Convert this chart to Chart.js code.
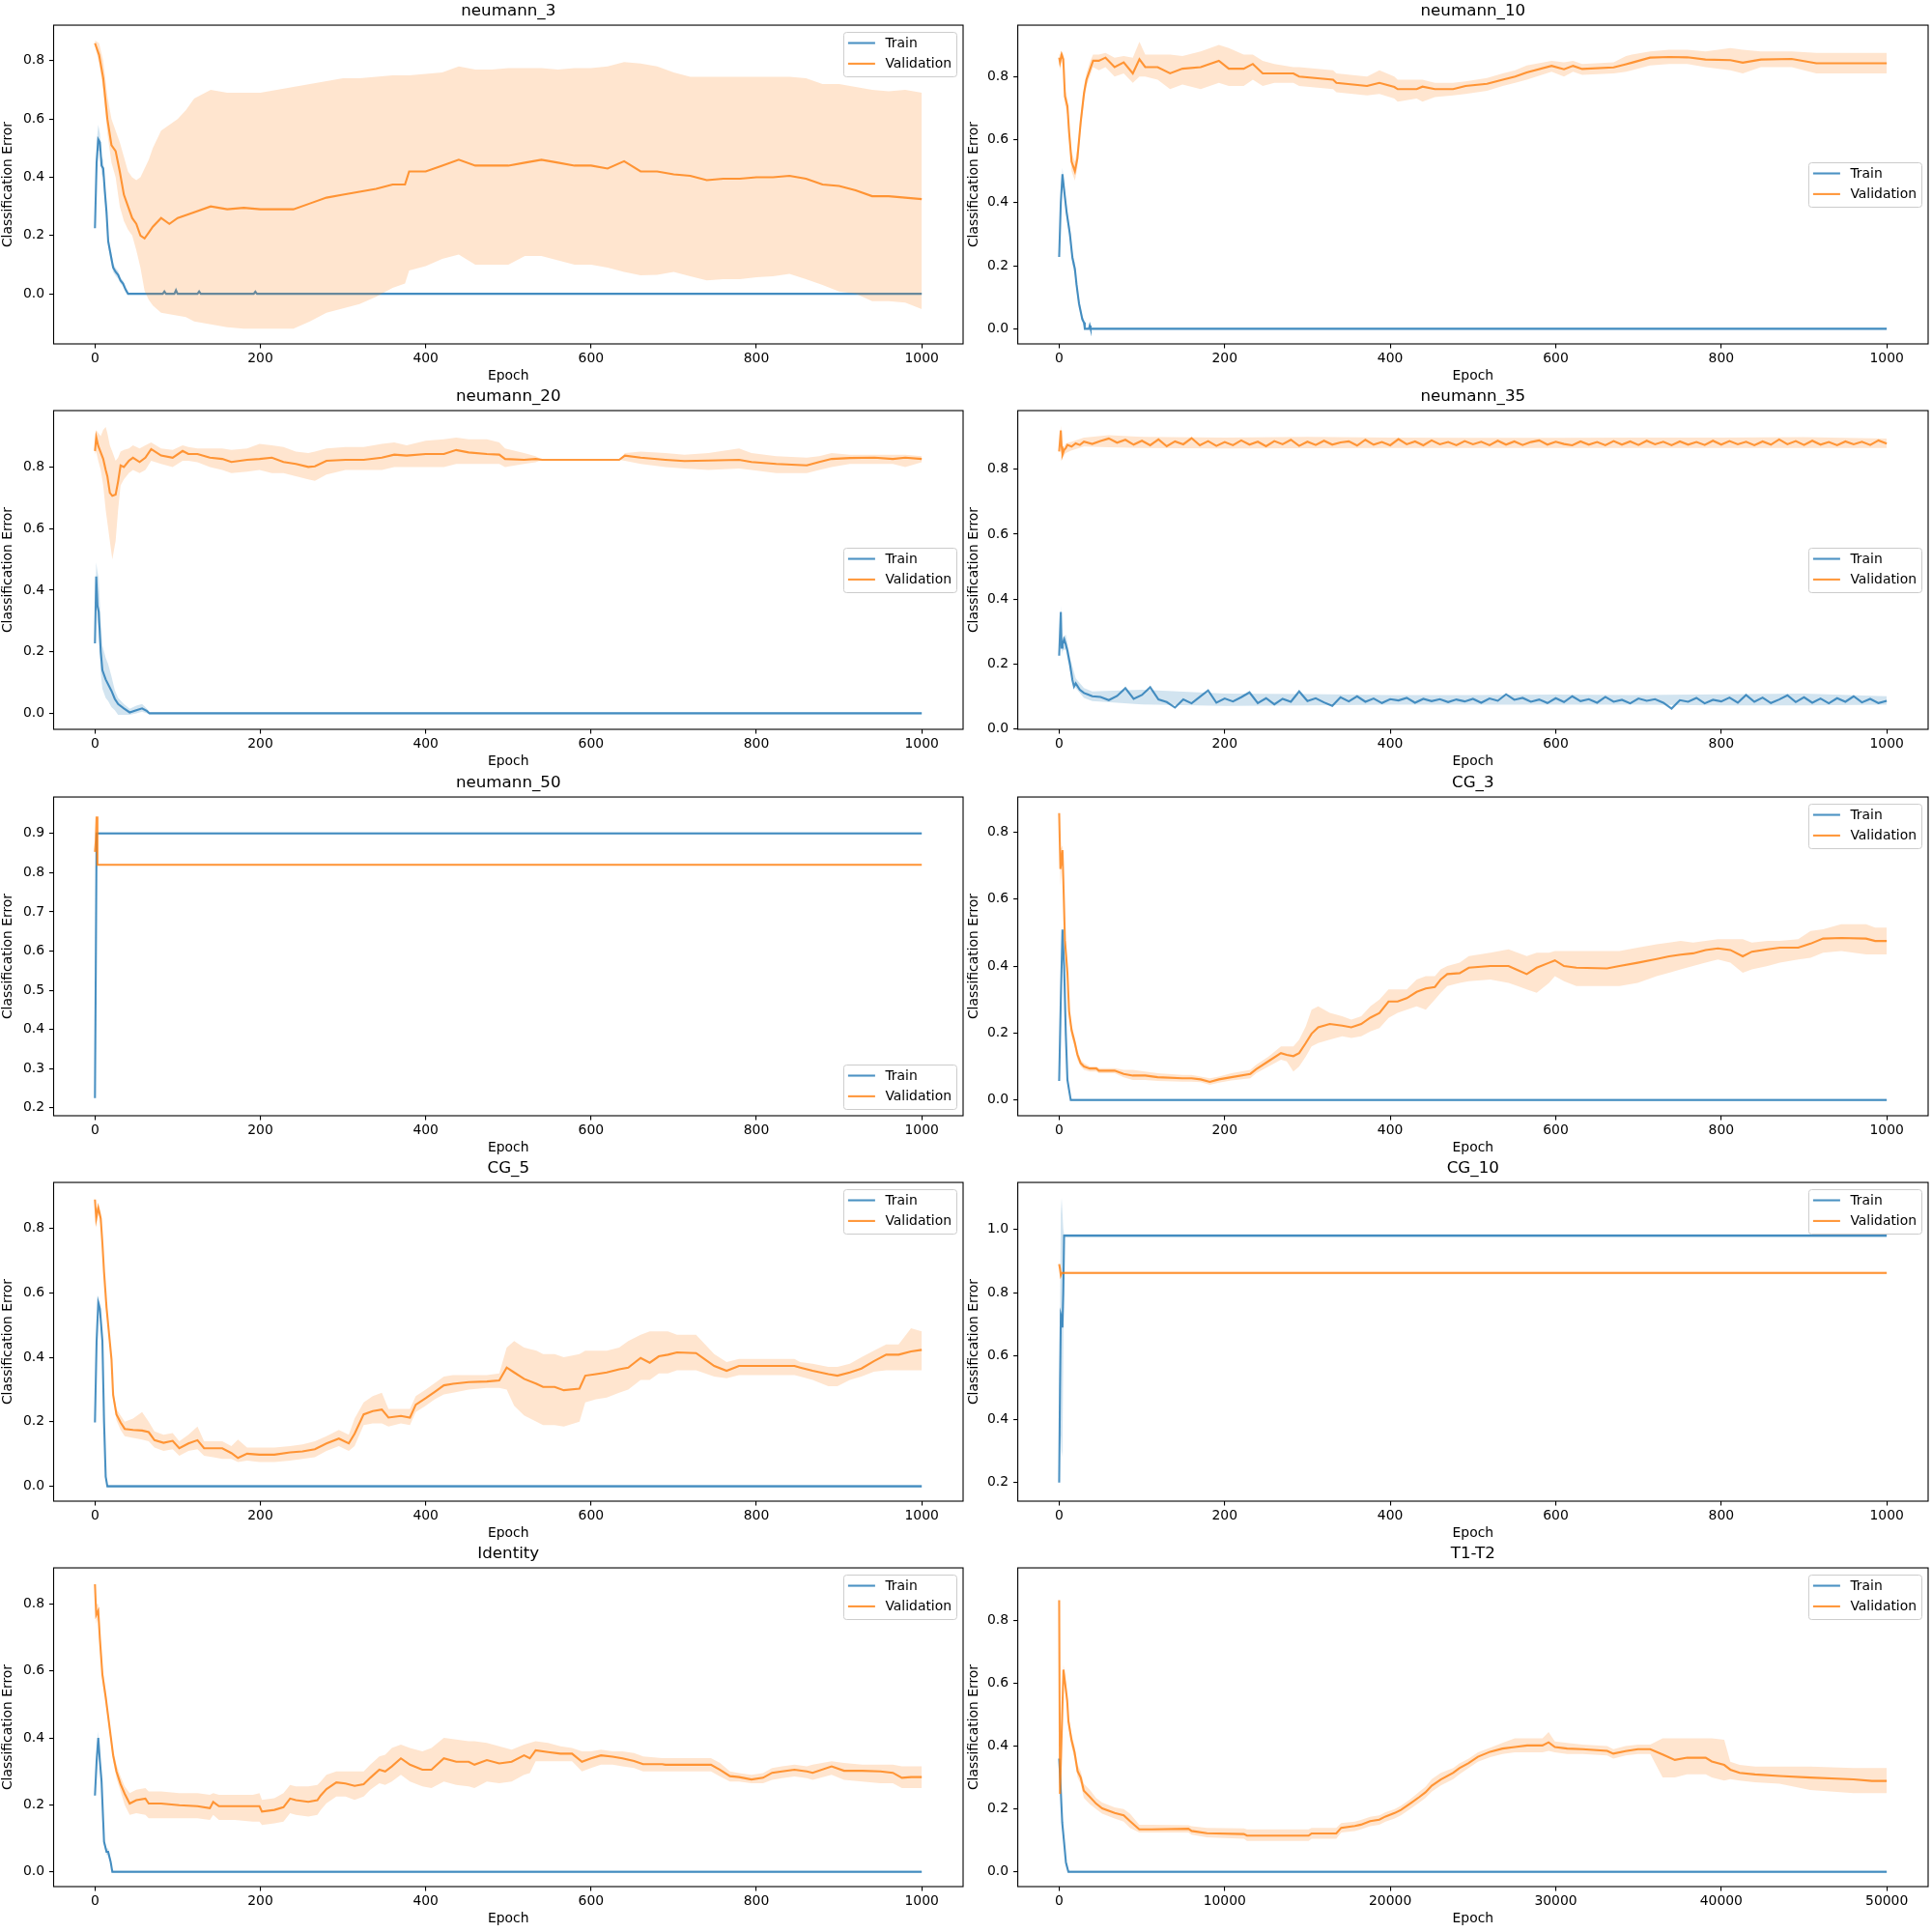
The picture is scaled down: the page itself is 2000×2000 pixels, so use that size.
<!DOCTYPE html>
<html>
<head>
<meta charset="utf-8">
<script src="https://cdn.jsdelivr.net/npm/chart.js@4.4.0/dist/chart.umd.min.js"></script>
<style>
  html, body { margin: 0; padding: 0; background: #fff; }
  #fig { position: relative; width: 2000px; height: 2000px; }
  .cell { position: absolute; width: 1000px; height: 400px; }
</style>
</head>
<body>
<div id="fig"></div>
<script>
// ---- neumann_3 ----
const n3ValX  = [0,5,10,15,20,25,30,35,40,45,50,55,60,65,70,80,90,100,110,120,140,160,180,200,220,240,260,280,300,320,340,360,375,380,400,420,440,460,480,500,520,540,560,580,600,620,640,660,680,700,720,740,760,780,800,820,840,860,880,900,920,940,960,980,1000];
const n3Val   = [0.86,0.82,0.74,0.60,0.51,0.49,0.42,0.34,0.30,0.26,0.24,0.20,0.19,0.21,0.23,0.26,0.24,0.26,0.27,0.28,0.30,0.29,0.295,0.29,0.29,0.29,0.31,0.33,0.34,0.35,0.36,0.375,0.375,0.42,0.42,0.44,0.46,0.44,0.44,0.44,0.45,0.46,0.45,0.44,0.44,0.43,0.455,0.42,0.42,0.41,0.405,0.39,0.395,0.395,0.40,0.40,0.405,0.395,0.375,0.37,0.355,0.335,0.335,0.33,0.325];
const n3ValLo = [0.85,0.79,0.70,0.55,0.45,0.40,0.30,0.25,0.22,0.20,0.15,0.09,0.01,-0.02,-0.04,-0.065,-0.07,-0.075,-0.08,-0.095,-0.105,-0.115,-0.12,-0.12,-0.12,-0.12,-0.095,-0.065,-0.05,-0.035,-0.01,0.02,0.035,0.08,0.095,0.12,0.135,0.10,0.10,0.10,0.13,0.13,0.115,0.10,0.10,0.09,0.075,0.063,0.065,0.075,0.06,0.046,0.05,0.05,0.057,0.06,0.068,0.05,0.03,0.008,0.0,-0.025,-0.025,-0.03,-0.053];
const n3ValHi = [0.87,0.86,0.80,0.68,0.60,0.56,0.52,0.47,0.42,0.40,0.39,0.40,0.43,0.46,0.50,0.56,0.58,0.60,0.63,0.67,0.70,0.69,0.69,0.69,0.70,0.71,0.72,0.73,0.74,0.74,0.745,0.75,0.75,0.75,0.755,0.76,0.78,0.77,0.77,0.775,0.775,0.775,0.77,0.775,0.775,0.78,0.795,0.79,0.78,0.76,0.745,0.745,0.745,0.745,0.745,0.745,0.745,0.74,0.72,0.72,0.71,0.70,0.695,0.70,0.69];
const n3TrainX  = [0,2,4,6,8,10,12,14,16,18,20,22,25,28,31,34,37,40,82,84,86,96,98,100,124,126,128,192,194,196,1000];
const n3Train   = [0.225,0.45,0.53,0.52,0.44,0.43,0.35,0.28,0.18,0.15,0.12,0.09,0.075,0.065,0.045,0.035,0.015,0.0,0.0,0.008,0.0,0.0,0.012,0.0,0.0,0.008,0.0,0.0,0.007,0.0,0.0];
const n3TrainLo = [0.225,0.40,0.49,0.49,0.41,0.40,0.32,0.25,0.16,0.13,0.10,0.075,0.062,0.052,0.035,0.025,0.005,-0.004,-0.004,0.0,-0.004,-0.004,0.0,-0.004,-0.004,0.0,-0.004,-0.004,0.0,-0.004,-0.004];
const n3TrainHi = [0.23,0.52,0.58,0.55,0.47,0.46,0.38,0.31,0.20,0.17,0.14,0.105,0.088,0.078,0.055,0.045,0.025,0.004,0.004,0.016,0.004,0.004,0.024,0.004,0.004,0.016,0.004,0.004,0.014,0.004,0.004];

// ---- neumann_10 ----
const n10ValX  = [0,1,3,5,7,10,12,15,19,22,26,30,33,37,41,48,56,67,78,89,97,104,119,134,149,171,193,205,223,234,246,260,283,290,331,335,372,387,405,409,432,439,454,476,491,517,536,551,565,595,610,621,632,670,685,692,714,737,759,781,811,826,848,885,915,1000];
const n10Val   = [0.86,0.845,0.87,0.855,0.737,0.706,0.624,0.53,0.50,0.54,0.655,0.747,0.79,0.82,0.85,0.85,0.86,0.83,0.845,0.81,0.855,0.83,0.83,0.81,0.825,0.83,0.85,0.825,0.825,0.84,0.81,0.81,0.81,0.80,0.79,0.78,0.77,0.78,0.767,0.76,0.76,0.768,0.76,0.76,0.77,0.777,0.79,0.80,0.813,0.834,0.823,0.834,0.824,0.829,0.839,0.844,0.86,0.862,0.861,0.854,0.852,0.844,0.854,0.856,0.842,0.842];
const n10ValLo = [0.84,0.82,0.85,0.83,0.71,0.68,0.60,0.50,0.47,0.51,0.63,0.72,0.77,0.80,0.83,0.82,0.83,0.80,0.81,0.78,0.80,0.80,0.79,0.76,0.775,0.76,0.78,0.77,0.77,0.79,0.77,0.78,0.78,0.77,0.76,0.75,0.74,0.745,0.73,0.72,0.73,0.72,0.735,0.74,0.745,0.755,0.77,0.78,0.79,0.815,0.80,0.815,0.805,0.81,0.815,0.82,0.835,0.84,0.84,0.83,0.82,0.81,0.83,0.83,0.81,0.81];
const n10ValHi = [0.875,0.87,0.88,0.87,0.76,0.73,0.65,0.56,0.53,0.57,0.68,0.77,0.81,0.845,0.87,0.87,0.875,0.86,0.865,0.86,0.91,0.87,0.87,0.87,0.865,0.88,0.90,0.89,0.87,0.87,0.85,0.84,0.83,0.83,0.82,0.81,0.80,0.82,0.80,0.79,0.79,0.79,0.78,0.78,0.785,0.795,0.81,0.82,0.835,0.85,0.845,0.85,0.84,0.845,0.865,0.87,0.88,0.885,0.885,0.88,0.89,0.885,0.88,0.88,0.875,0.875];
const n10TrainX  = [0,2,4,6,9,13,16,19,21,24,28,30,31,36,37,38,1000];
const n10Train   = [0.228,0.40,0.49,0.44,0.37,0.30,0.225,0.19,0.14,0.08,0.03,0.02,0.0,0.0,0.01,0.0,0.0];
const n10TrainLo = [0.225,0.37,0.47,0.42,0.35,0.28,0.205,0.17,0.12,0.065,0.02,0.01,-0.003,-0.003,0.0,-0.003,-0.003];
const n10TrainHi = [0.23,0.43,0.51,0.46,0.39,0.32,0.245,0.21,0.16,0.095,0.04,0.03,0.003,0.003,0.02,0.003,0.003];

// ---- neumann_20 ----
const n20ValX  = [0,1.5,4,7,10,13,15,18,21,25,28,31,35,41,46,54,61,68,80,94,106,113,124,139,154,165,184,199,214,228,243,258,266,280,303,325,347,362,377,400,422,437,452,474,489,496,519,533,541,634,641,660,690,713,742,779,794,824,861,876,891,913,943,965,980,1000];
const n20Val   = [0.852,0.897,0.868,0.847,0.826,0.79,0.77,0.716,0.706,0.71,0.753,0.805,0.80,0.82,0.83,0.816,0.83,0.858,0.837,0.83,0.852,0.842,0.842,0.83,0.826,0.816,0.823,0.826,0.83,0.816,0.81,0.80,0.802,0.82,0.823,0.823,0.83,0.84,0.837,0.842,0.842,0.855,0.847,0.842,0.84,0.826,0.823,0.826,0.823,0.823,0.837,0.83,0.823,0.819,0.821,0.823,0.816,0.81,0.805,0.816,0.826,0.829,0.83,0.826,0.83,0.826];
const n20ValLo = [0.84,0.85,0.82,0.79,0.74,0.66,0.62,0.56,0.50,0.56,0.66,0.74,0.76,0.78,0.79,0.78,0.79,0.82,0.81,0.80,0.82,0.82,0.815,0.80,0.79,0.78,0.785,0.79,0.78,0.78,0.77,0.76,0.755,0.775,0.79,0.79,0.79,0.80,0.80,0.80,0.80,0.81,0.81,0.81,0.81,0.80,0.81,0.815,0.823,0.823,0.82,0.81,0.80,0.795,0.79,0.795,0.79,0.78,0.78,0.79,0.80,0.81,0.81,0.81,0.80,0.815];
const n20ValHi = [0.87,0.92,0.91,0.90,0.92,0.93,0.91,0.87,0.85,0.82,0.83,0.85,0.855,0.86,0.87,0.86,0.87,0.88,0.86,0.855,0.87,0.865,0.86,0.86,0.86,0.855,0.86,0.875,0.87,0.865,0.85,0.845,0.85,0.86,0.865,0.865,0.875,0.88,0.87,0.885,0.89,0.895,0.89,0.89,0.88,0.86,0.845,0.835,0.823,0.823,0.845,0.85,0.845,0.84,0.845,0.86,0.845,0.835,0.83,0.835,0.845,0.84,0.84,0.84,0.84,0.835];
const n20TrainX  = [0,1.5,3,4.5,7,9,13,16,20,24,28,35,42,50,57,63,66,1000];
const n20Train   = [0.227,0.444,0.35,0.33,0.20,0.14,0.11,0.094,0.073,0.047,0.03,0.016,0.003,0.01,0.016,0.007,0.0,0.0];
const n20TrainLo = [0.225,0.40,0.30,0.27,0.13,0.08,0.05,0.04,0.02,0.01,-0.005,-0.005,-0.005,0.0,0.005,0.0,-0.003,-0.003];
const n20TrainHi = [0.23,0.49,0.46,0.44,0.30,0.22,0.18,0.16,0.12,0.075,0.05,0.03,0.015,0.025,0.03,0.015,0.003,0.003];

// ---- neumann_35 ----
const n35ValX = [0,2,3,4,6,8,10,15,20,25,30,40,50,60,70,80,90,100,110,120,130,140,150,160,170,180,190,200,210,220,230,240,250,260,270,280,290,300,310,320,330,340,350,360,370,380,390,400,410,420,430,440,450,460,470,480,490,500,510,520,530,540,550,560,570,580,590,600,610,620,630,640,650,660,670,680,690,700,710,720,730,740,750,760,770,780,790,800,810,820,830,840,850,860,870,880,890,900,910,920,930,940,950,960,970,980,990,1000];
const n35Val  = [0.855,0.92,0.87,0.845,0.86,0.865,0.875,0.87,0.88,0.875,0.885,
  0.878,0.887,0.895,0.882,0.891,0.876,0.888,0.874,0.892,0.871,0.886,0.877,0.896,0.874,0.887,0.872,0.884,
  0.874,0.889,0.876,0.885,0.871,0.887,0.877,0.891,0.872,0.885,
  0.875,0.888,0.876,0.883,0.886,0.873,0.891,0.876,0.884,0.874,
  0.893,0.877,0.886,0.874,0.889,0.877,0.884,0.874,0.887,0.877,
  0.885,0.874,0.888,0.876,0.886,0.875,0.884,0.889,0.876,0.885,
  0.878,0.874,0.886,0.876,0.884,0.874,0.887,0.876,0.886,0.875,
  0.888,0.877,0.885,0.874,0.886,0.876,0.884,0.875,0.888,0.876,
  0.887,0.877,0.885,0.874,0.886,0.876,0.892,0.877,0.887,0.875,
  0.888,0.876,0.884,0.874,0.886,0.877,0.885,0.875,0.889,0.879];
const n35ValBandX = [0,2,3,4,8,15,30,60,100,200,300,400,500,600,700,800,900,1000];
const n35ValLo = [0.85,0.90,0.85,0.835,0.85,0.858,0.87,0.868,0.866,0.864,0.865,0.866,0.866,0.866,0.866,0.866,0.866,0.866];
const n35ValHi = [0.86,0.935,0.89,0.86,0.88,0.885,0.898,0.905,0.90,0.898,0.90,0.898,0.897,0.897,0.898,0.898,0.899,0.895];
const n35TrainX = [0,2,3,4,6,8,10,13,16,18,20,25,30,35,40,50,60,70,80,90,100,110,120,130,140,150,160,170,180,190,200,210,220,230,240,250,260,270,280,290,300,310,320,330,340,350,360,370,380,390,400,410,420,430,440,450,460,470,480,490,500,510,520,530,540,550,560,570,580,590,600,610,620,630,640,650,660,670,680,690,700,710,720,730,740,750,760,770,780,790,800,810,820,830,840,850,860,870,880,890,900,910,920,930,940,950,960,970,980,990,1000];
const n35Train  = [0.225,0.36,0.25,0.26,0.276,0.26,0.24,0.20,0.15,0.13,0.14,0.12,0.11,0.105,
  0.10,0.098,0.088,0.101,0.125,0.092,0.104,0.128,0.09,0.082,0.065,0.09,0.078,0.098,0.118,0.08,0.093,
  0.084,0.097,0.112,0.079,0.094,0.075,0.092,0.083,0.115,0.085,
  0.094,0.081,0.07,0.097,0.084,0.10,0.083,0.093,0.079,0.091,
  0.087,0.095,0.08,0.092,0.085,0.091,0.082,0.09,0.084,0.092,
  0.08,0.093,0.086,0.106,0.089,0.095,0.083,0.09,0.079,0.094,
  0.082,0.10,0.085,0.091,0.08,0.098,0.083,0.089,0.078,0.093,
  0.086,0.091,0.08,0.062,0.088,0.083,0.095,0.078,0.089,0.084,
  0.096,0.08,0.104,0.083,0.096,0.079,0.09,0.103,0.082,0.097,
  0.08,0.093,0.078,0.094,0.083,0.10,0.081,0.092,0.079,0.086];
const n35TrainBandX = [0,2,3,4,8,13,20,30,40,100,200,300,400,500,600,700,800,900,1000];
const n35TrainLo = [0.22,0.33,0.23,0.24,0.245,0.18,0.125,0.095,0.085,0.075,0.07,0.072,0.074,0.074,0.074,0.074,0.072,0.072,0.074];
const n35TrainHi = [0.23,0.38,0.27,0.28,0.29,0.22,0.155,0.125,0.115,0.12,0.108,0.107,0.104,0.104,0.105,0.104,0.106,0.108,0.10];

// ---- neumann_50 ----
const n50ValX  = [0,1,2,3,1000];
const n50Val   = [0.853,0.88,0.943,0.82,0.82];
const n50ValLo = [0.85,0.86,0.93,0.818,0.818];
const n50ValHi = [0.856,0.90,0.95,0.822,0.822];
const n50TrainX  = [0,1,2,1000];
const n50Train   = [0.225,0.55,0.90,0.90];
const n50TrainLo = [0.225,0.35,0.897,0.897];
const n50TrainHi = [0.225,0.85,0.903,0.903];

// ---- CG_3 ----
const cg3ValX  = [0,1.5,4,5,7,10,12,15,19,22,26,30,37,45,48,67,78,89,104,119,149,160,171,182,193,208,231,238,253,268,275,283,290,298,305,313,327,342,353,365,376,387,398,409,420,432,443,454,461,469,484,495,521,543,554,565,577,592,599,610,625,662,677,699,722,737,751,766,781,796,811,826,837,856,871,893,908,923,945,975,986,1000];
const cg3Val   = [0.857,0.69,0.746,0.66,0.477,0.38,0.265,0.208,0.17,0.136,0.11,0.10,0.094,0.094,0.0875,0.0875,0.078,0.073,0.073,0.068,0.065,0.065,0.0615,0.054,0.0615,0.068,0.078,0.092,0.116,0.14,0.135,0.131,0.14,0.17,0.198,0.217,0.227,0.222,0.217,0.227,0.246,0.26,0.294,0.294,0.304,0.323,0.333,0.3375,0.36,0.376,0.379,0.395,0.40,0.40,0.388,0.376,0.395,0.41,0.417,0.40,0.395,0.393,0.40,0.41,0.421,0.429,0.434,0.438,0.448,0.453,0.448,0.429,0.443,0.45,0.455,0.455,0.467,0.482,0.484,0.482,0.475,0.475];
const cg3ValLo = [0.85,0.64,0.73,0.62,0.45,0.36,0.245,0.19,0.155,0.12,0.10,0.09,0.085,0.085,0.08,0.08,0.068,0.06,0.06,0.057,0.055,0.055,0.053,0.045,0.052,0.058,0.065,0.08,0.10,0.12,0.115,0.085,0.10,0.13,0.16,0.17,0.18,0.19,0.185,0.19,0.205,0.215,0.245,0.26,0.27,0.28,0.27,0.30,0.32,0.34,0.35,0.355,0.36,0.35,0.34,0.33,0.32,0.35,0.37,0.355,0.34,0.34,0.34,0.35,0.37,0.38,0.39,0.40,0.41,0.42,0.41,0.38,0.39,0.40,0.41,0.42,0.425,0.44,0.445,0.435,0.435,0.435];
const cg3ValHi = [0.86,0.75,0.76,0.70,0.50,0.40,0.285,0.225,0.185,0.15,0.12,0.11,0.10,0.10,0.095,0.095,0.09,0.09,0.085,0.08,0.075,0.075,0.07,0.065,0.07,0.08,0.09,0.105,0.13,0.16,0.16,0.16,0.18,0.22,0.27,0.28,0.26,0.25,0.24,0.25,0.28,0.30,0.33,0.33,0.33,0.36,0.37,0.37,0.39,0.40,0.41,0.43,0.44,0.45,0.44,0.43,0.44,0.44,0.445,0.445,0.445,0.445,0.445,0.455,0.465,0.47,0.475,0.47,0.475,0.48,0.48,0.48,0.47,0.475,0.475,0.48,0.505,0.51,0.525,0.525,0.515,0.515];
const cg3TrainX  = [0,2,4,6,8,10,12,14,1000];
const cg3Train   = [0.057,0.30,0.509,0.40,0.20,0.06,0.03,0.0,0.0];
const cg3TrainLo = [0.055,0.28,0.49,0.38,0.18,0.05,0.02,-0.003,-0.003];
const cg3TrainHi = [0.06,0.32,0.52,0.42,0.22,0.07,0.04,0.004,0.004];

// ---- CG_5 ----
const cg5ValX  = [0,1.5,4,7,9,11,14,17,20,22,26,31,36,46,57,65,72,83,94,102,113,124,132,143,154,165,173,184,199,217,236,251,266,280,295,307,314,325,336,347,355,370,381,388,400,411,422,433,452,474,489,498,507,519,534,542,556,567,586,593,606,619,634,645,660,671,682,693,704,727,738,749,764,779,801,824,846,853,868,887,898,913,927,942,957,972,987,1000];
const cg5Val   = [0.889,0.83,0.864,0.83,0.754,0.664,0.554,0.474,0.394,0.283,0.223,0.198,0.178,0.175,0.173,0.168,0.143,0.135,0.141,0.118,0.133,0.143,0.118,0.118,0.118,0.103,0.088,0.101,0.098,0.098,0.105,0.108,0.115,0.133,0.148,0.133,0.163,0.223,0.233,0.238,0.213,0.218,0.213,0.253,0.273,0.293,0.313,0.318,0.323,0.325,0.328,0.368,0.353,0.333,0.318,0.308,0.308,0.298,0.303,0.343,0.348,0.353,0.363,0.368,0.398,0.383,0.403,0.408,0.415,0.413,0.393,0.373,0.358,0.373,0.373,0.373,0.373,0.368,0.358,0.348,0.343,0.353,0.365,0.388,0.408,0.408,0.418,0.423];
const cg5ValLo = [0.885,0.80,0.85,0.81,0.74,0.65,0.54,0.46,0.38,0.27,0.205,0.175,0.155,0.15,0.145,0.14,0.12,0.11,0.115,0.095,0.11,0.115,0.095,0.09,0.085,0.085,0.075,0.08,0.075,0.075,0.08,0.085,0.09,0.11,0.125,0.11,0.125,0.19,0.195,0.195,0.185,0.195,0.19,0.23,0.25,0.27,0.285,0.29,0.30,0.305,0.305,0.30,0.25,0.22,0.20,0.19,0.19,0.185,0.20,0.26,0.27,0.275,0.29,0.30,0.33,0.33,0.35,0.35,0.36,0.36,0.35,0.34,0.335,0.345,0.345,0.345,0.345,0.34,0.33,0.31,0.31,0.33,0.34,0.355,0.36,0.36,0.36,0.36];
const cg5ValHi = [0.89,0.86,0.87,0.85,0.77,0.68,0.57,0.49,0.41,0.30,0.24,0.22,0.20,0.21,0.23,0.20,0.17,0.16,0.165,0.14,0.16,0.185,0.14,0.14,0.14,0.125,0.145,0.12,0.12,0.12,0.125,0.13,0.14,0.155,0.175,0.16,0.21,0.26,0.28,0.29,0.24,0.24,0.24,0.28,0.30,0.32,0.34,0.345,0.345,0.345,0.35,0.43,0.45,0.43,0.42,0.41,0.41,0.40,0.41,0.42,0.42,0.42,0.43,0.45,0.47,0.48,0.48,0.48,0.47,0.47,0.44,0.41,0.385,0.395,0.395,0.395,0.395,0.385,0.38,0.37,0.37,0.38,0.40,0.42,0.44,0.44,0.49,0.48];
const cg5TrainX  = [0,2,4,6,9,11,13,15,1000];
const cg5Train   = [0.198,0.45,0.57,0.55,0.45,0.20,0.03,0.0,0.0];
const cg5TrainLo = [0.195,0.43,0.56,0.53,0.43,0.18,0.02,-0.003,-0.003];
const cg5TrainHi = [0.20,0.47,0.58,0.57,0.47,0.22,0.04,0.005,0.005];

// ---- CG_10 ----
const cg10ValX  = [0,1,2,3,1000];
const cg10Val   = [0.89,0.875,0.855,0.862,0.862];
const cg10ValLo = [0.885,0.865,0.845,0.858,0.858];
const cg10ValHi = [0.895,0.885,0.865,0.866,0.866];
const cg10TrainX  = [0,1,2,3,4,5,6,1000];
const cg10Train   = [0.20,0.50,0.73,0.72,0.69,0.80,0.98,0.98];
const cg10TrainLo = [0.20,0.30,0.35,0.28,0.30,0.60,0.975,0.975];
const cg10TrainHi = [0.20,0.70,1.05,1.10,1.10,1.00,0.985,0.985];

// ---- Identity ----
const idValX  = [0,1.5,4,6,9,13,16,20,22,26,31,36,42,50,61,65,80,102,124,139,143,150,169,191,199,202,217,228,236,243,258,269,273,280,292,303,314,325,333,344,351,359,370,381,396,407,422,437,452,459,474,489,504,519,526,533,548,563,577,589,600,612,626,638,652,663,686,690,745,756,768,779,794,808,819,831,846,861,868,891,906,928,950,965,976,987,1000];
const idVal   = [0.859,0.767,0.78,0.695,0.589,0.522,0.464,0.387,0.348,0.30,0.262,0.233,0.204,0.214,0.2185,0.204,0.204,0.199,0.196,0.19,0.209,0.196,0.196,0.196,0.196,0.18,0.185,0.193,0.219,0.214,0.209,0.214,0.228,0.247,0.267,0.264,0.257,0.262,0.281,0.305,0.30,0.315,0.339,0.32,0.305,0.305,0.339,0.329,0.329,0.32,0.334,0.324,0.329,0.348,0.339,0.363,0.358,0.353,0.353,0.329,0.339,0.348,0.344,0.339,0.331,0.3215,0.3215,0.32,0.32,0.305,0.286,0.283,0.276,0.281,0.296,0.30,0.305,0.30,0.296,0.315,0.302,0.302,0.30,0.296,0.281,0.283,0.283];
const idValLo = [0.85,0.74,0.76,0.67,0.57,0.50,0.445,0.37,0.33,0.28,0.24,0.20,0.17,0.175,0.17,0.16,0.16,0.16,0.16,0.155,0.17,0.155,0.155,0.15,0.15,0.14,0.145,0.15,0.175,0.17,0.165,0.17,0.185,0.205,0.225,0.225,0.215,0.225,0.245,0.265,0.26,0.27,0.29,0.27,0.255,0.25,0.27,0.26,0.255,0.25,0.27,0.265,0.27,0.29,0.295,0.33,0.33,0.33,0.33,0.30,0.31,0.32,0.32,0.315,0.31,0.30,0.30,0.30,0.30,0.285,0.27,0.27,0.265,0.265,0.275,0.28,0.285,0.28,0.275,0.29,0.275,0.27,0.265,0.265,0.25,0.25,0.25];
const idValHi = [0.865,0.80,0.80,0.72,0.61,0.54,0.48,0.40,0.365,0.32,0.285,0.255,0.235,0.245,0.25,0.24,0.24,0.235,0.235,0.23,0.235,0.23,0.23,0.23,0.235,0.215,0.22,0.235,0.26,0.255,0.255,0.26,0.27,0.29,0.30,0.30,0.30,0.30,0.32,0.345,0.35,0.37,0.38,0.37,0.36,0.37,0.40,0.395,0.39,0.39,0.385,0.375,0.365,0.38,0.385,0.39,0.385,0.375,0.37,0.36,0.36,0.365,0.36,0.36,0.355,0.345,0.34,0.34,0.34,0.325,0.30,0.295,0.29,0.295,0.31,0.315,0.32,0.315,0.32,0.33,0.325,0.32,0.32,0.32,0.315,0.315,0.315];
const idTrainX  = [0,2,4,6,8,10,11,12,14,16,18,19,21,1000];
const idTrain   = [0.228,0.33,0.40,0.33,0.27,0.15,0.09,0.08,0.06,0.06,0.04,0.03,0.0,0.0];
const idTrainLo = [0.225,0.30,0.38,0.31,0.25,0.13,0.08,0.07,0.05,0.05,0.03,0.02,-0.003,-0.003];
const idTrainHi = [0.23,0.36,0.42,0.35,0.29,0.17,0.10,0.09,0.07,0.07,0.05,0.04,0.005,0.005];

// ---- T1-T2 ----
const t12ValX  = [0,50,260,484,560,744,930,1116,1300,1490,1860,2230,2600,3350,3900,4280,4840,5580,7810,8000,8930,11160,11350,15070,15250,16740,17040,17860,18230,18790,19340,19720,20270,20650,21200,21760,22130,22510,23060,23810,24180,24740,25300,26040,26780,27530,28270,29200,29570,29950,30690,31620,33110,33480,34220,34970,35710,36460,37200,37940,39060,39430,40180,40550,41110,42040,43520,45380,47990,49100,50000];
const t12Val   = [0.864,0.248,0.643,0.546,0.479,0.42,0.38,0.32,0.30,0.258,0.238,0.217,0.202,0.187,0.18,0.161,0.135,0.135,0.137,0.13,0.123,0.12,0.115,0.115,0.122,0.122,0.14,0.146,0.15,0.161,0.166,0.176,0.187,0.197,0.217,0.238,0.253,0.274,0.294,0.315,0.33,0.346,0.366,0.382,0.392,0.397,0.402,0.402,0.412,0.397,0.392,0.39,0.385,0.376,0.384,0.39,0.39,0.373,0.356,0.363,0.363,0.351,0.34,0.325,0.315,0.31,0.305,0.30,0.294,0.289,0.289];
const t12ValLo = [0.85,0.22,0.62,0.52,0.46,0.40,0.36,0.30,0.28,0.235,0.215,0.20,0.185,0.17,0.16,0.14,0.125,0.125,0.125,0.118,0.11,0.105,0.098,0.098,0.105,0.105,0.125,0.13,0.135,0.145,0.15,0.16,0.17,0.18,0.20,0.22,0.235,0.255,0.275,0.295,0.31,0.33,0.35,0.365,0.375,0.38,0.38,0.38,0.385,0.38,0.375,0.375,0.37,0.36,0.37,0.375,0.375,0.30,0.30,0.31,0.31,0.30,0.29,0.295,0.29,0.285,0.28,0.26,0.25,0.25,0.25];
const t12ValHi = [0.87,0.30,0.66,0.57,0.50,0.44,0.40,0.34,0.32,0.28,0.26,0.235,0.22,0.205,0.20,0.185,0.15,0.15,0.148,0.145,0.14,0.138,0.135,0.135,0.14,0.14,0.155,0.16,0.165,0.175,0.18,0.19,0.20,0.21,0.23,0.255,0.27,0.295,0.315,0.33,0.345,0.36,0.38,0.395,0.41,0.425,0.425,0.425,0.445,0.415,0.41,0.405,0.40,0.39,0.40,0.405,0.405,0.425,0.425,0.425,0.425,0.425,0.42,0.35,0.34,0.335,0.335,0.335,0.33,0.33,0.33];
const t12TrainX  = [0,74,130,186,298,409,558,50000];
const t12Train   = [0.36,0.29,0.22,0.156,0.094,0.03,0.0,0.0];
const t12TrainLo = [0.34,0.27,0.20,0.14,0.08,0.02,-0.003,-0.003];
const t12TrainHi = [0.38,0.31,0.24,0.17,0.11,0.04,0.005,0.005];

// ---- tick values ----
const xTicksEpoch = [0,200,400,600,800,1000];
const xTicksT12   = [0,10000,20000,30000,40000,50000];
const yTicksErr   = [0.0,0.2,0.4,0.6,0.8];
const yTicksN50   = [0.2,0.3,0.4,0.5,0.6,0.7,0.8,0.9];
const yTicksCG10  = [0.2,0.4,0.6,0.8,1.0];

const SERIES_NAMES = ['Train', 'Validation'];

// colours (matplotlib tab10 blue / orange)
const TRAIN_LINE = 'rgba(31,119,180,0.8)';
const TRAIN_BAND = 'rgba(31,119,180,0.2)';
const VAL_LINE   = 'rgba(255,127,14,0.8)';
const VAL_BAND   = 'rgba(255,127,14,0.2)';

const PANELS = [
  { title: 'neumann_3',  vx: n3ValX,  v: n3Val,  vbx: n3ValX,  vlo: n3ValLo,  vhi: n3ValHi,  tx: n3TrainX,  t: n3Train,  tbx: n3TrainX,  tlo: n3TrainLo,  thi: n3TrainHi,  y: [-0.172, 0.922], yTicks: yTicksErr, xMax: 1000, xTicks: xTicksEpoch, legend: 'ur' },
  { title: 'neumann_10', vx: n10ValX, v: n10Val, vbx: n10ValX, vlo: n10ValLo, vhi: n10ValHi, tx: n10TrainX, t: n10Train, tbx: n10TrainX, tlo: n10TrainLo, thi: n10TrainHi, y: [-0.048, 0.963], yTicks: yTicksErr, xMax: 1000, xTicks: xTicksEpoch, legend: 'cr' },
  { title: 'neumann_20', vx: n20ValX, v: n20Val, vbx: n20ValX, vlo: n20ValLo, vhi: n20ValHi, tx: n20TrainX, t: n20Train, tbx: n20TrainX, tlo: n20TrainLo, thi: n20TrainHi, y: [-0.052, 0.983], yTicks: yTicksErr, xMax: 1000, xTicks: xTicksEpoch, legend: 'cr' },
  { title: 'neumann_35', vx: n35ValX, v: n35Val, vbx: n35ValBandX, vlo: n35ValLo, vhi: n35ValHi, tx: n35TrainX, t: n35Train, tbx: n35TrainBandX, tlo: n35TrainLo, thi: n35TrainHi, y: [-0.002, 0.981], yTicks: yTicksErr, xMax: 1000, xTicks: xTicksEpoch, legend: 'cr' },
  { title: 'neumann_50', vx: n50ValX, v: n50Val, vbx: n50ValX, vlo: n50ValLo, vhi: n50ValHi, tx: n50TrainX, t: n50Train, tbx: n50TrainX, tlo: n50TrainLo, thi: n50TrainHi, y: [0.180, 0.993], yTicks: yTicksN50, xMax: 1000, xTicks: xTicksEpoch, legend: 'lr' },
  { title: 'CG_3',       vx: cg3ValX, v: cg3Val, vbx: cg3ValX, vlo: cg3ValLo, vhi: cg3ValHi, tx: cg3TrainX, t: cg3Train, tbx: cg3TrainX, tlo: cg3TrainLo, thi: cg3TrainHi, y: [-0.047, 0.905], yTicks: yTicksErr, xMax: 1000, xTicks: xTicksEpoch, legend: 'ur' },
  { title: 'CG_5',       vx: cg5ValX, v: cg5Val, vbx: cg5ValX, vlo: cg5ValLo, vhi: cg5ValHi, tx: cg5TrainX, t: cg5Train, tbx: cg5TrainX, tlo: cg5TrainLo, thi: cg5TrainHi, y: [-0.046, 0.942], yTicks: yTicksErr, xMax: 1000, xTicks: xTicksEpoch, legend: 'ur' },
  { title: 'CG_10',      vx: cg10ValX, v: cg10Val, vbx: cg10ValX, vlo: cg10ValLo, vhi: cg10ValHi, tx: cg10TrainX, t: cg10Train, tbx: cg10TrainX, tlo: cg10TrainLo, thi: cg10TrainHi, y: [0.141, 1.148], yTicks: yTicksCG10, xMax: 1000, xTicks: xTicksEpoch, legend: 'ur' },
  { title: 'Identity',   vx: idValX,  v: idVal,  vbx: idValX,  vlo: idValLo,  vhi: idValHi,  tx: idTrainX,  t: idTrain,  tbx: idTrainX,  tlo: idTrainLo,  thi: idTrainHi,  y: [-0.044, 0.908], yTicks: yTicksErr, xMax: 1000, xTicks: xTicksEpoch, legend: 'ur' },
  { title: 'T1-T2',      vx: t12ValX, v: t12Val, vbx: t12ValX, vlo: t12ValLo, vhi: t12ValHi, tx: t12TrainX, t: t12Train, tbx: t12TrainX, tlo: t12TrainLo, thi: t12TrainHi, y: [-0.047, 0.967], yTicks: yTicksErr, xMax: 50000, xTicks: xTicksT12, legend: 'ur' },
];

const CELL_TOPS = [0, 399, 799, 1198, 1597];
const FONT = 'DejaVu Sans';

function pts(xs, ys) {
  return xs.map((x, i) => ({ x: x, y: ys[i] }));
}

// box around the plot area, like matplotlib spines
const frame = {
  id: 'frame',
  afterDraw(chart) {
    const { ctx, chartArea: a } = chart;
    ctx.save();
    ctx.strokeStyle = '#000';
    ctx.lineWidth = 1.1;
    ctx.strokeRect(a.left, a.top, a.right - a.left, a.bottom - a.top);
    ctx.restore();
  }
};

// legend drawn inside the axes (upper / center / lower right)
const boxLegend = {
  id: 'boxLegend',
  afterDraw(chart, args, opts) {
    const { ctx, chartArea: a } = chart;
    const items = [[SERIES_NAMES[0], TRAIN_LINE], [SERIES_NAMES[1], VAL_LINE]];
    ctx.save();
    ctx.font = '13.9px "' + FONT + '"';
    const tw = Math.max(...items.map(it => ctx.measureText(it[0]).width));
    const w = 5 + 28 + 10.5 + tw + 5;
    const h = 46;
    const x = a.right - 7 - w;
    let y;
    if (opts.where === 'lr') y = a.bottom - 7 - h;
    else if (opts.where === 'cr') y = (a.top + a.bottom) / 2 - h / 2;
    else y = a.top + 7;
    ctx.beginPath();
    ctx.roundRect(x + 0.5, y + 0.5, w, h, 3);
    ctx.fillStyle = 'rgba(255,255,255,0.8)';
    ctx.fill();
    ctx.strokeStyle = '#cccccc';
    ctx.lineWidth = 1;
    ctx.stroke();
    items.forEach((it, i) => {
      const cy = y + 11.5 + i * 21.4;
      ctx.beginPath();
      ctx.moveTo(x + 5, cy);
      ctx.lineTo(x + 33, cy);
      ctx.strokeStyle = it[1];
      ctx.lineWidth = 2.1;
      ctx.stroke();
      ctx.fillStyle = '#000';
      ctx.textBaseline = 'middle';
      ctx.textAlign = 'left';
      ctx.fillText(it[0], x + 43.5, cy + 0.5);
    });
    ctx.restore();
  }
};

function lineSet(data, color, order) {
  return { data: data, borderColor: color, borderWidth: 2.1, pointRadius: 0, fill: false, tension: 0, order: order };
}
function bandSet(data, color, order, target) {
  return { data: data, borderWidth: 0, pointRadius: 0, backgroundColor: color, borderColor: 'rgba(0,0,0,0)', fill: target, tension: 0, order: order };
}
function fixedTicks(values) {
  return s => { s.ticks = values.map(v => ({ value: v })); };
}

const fig = document.getElementById('fig');
PANELS.forEach((p, i) => {
  const col = i % 2, row = Math.floor(i / 2);
  const cell = document.createElement('div');
  cell.className = 'cell';
  cell.style.left = (col * 1000) + 'px';
  cell.style.top = CELL_TOPS[row] + 'px';
  const cv = document.createElement('canvas');
  cv.width = 1000; cv.height = 400;
  cell.appendChild(cv);
  fig.appendChild(cell);

  const yw = col === 0 ? 55.5 : 53.6;
  new Chart(cv, {
    type: 'line',
    data: {
      datasets: [
        lineSet(pts(p.vx, p.v), VAL_LINE, 1),
        bandSet(pts(p.vbx, p.vhi), VAL_BAND, 2, 2),
        bandSet(pts(p.vbx, p.vlo), VAL_BAND, 2, false),
        lineSet(pts(p.tx, p.t), TRAIN_LINE, 3),
        bandSet(pts(p.tbx, p.thi), TRAIN_BAND, 4, 5),
        bandSet(pts(p.tbx, p.tlo), TRAIN_BAND, 4, false),
      ]
    },
    options: {
      responsive: false,
      animation: false,
      devicePixelRatio: 1,
      layout: { padding: { left: 0, right: col === 0 ? 3 : 4, top: 0, bottom: 0 } },
      plugins: {
        legend: { display: false },
        tooltip: { enabled: false },
        title: {
          display: true, text: p.title, fullSize: false, color: '#000',
          font: { family: FONT, size: 16.7, weight: 'normal' },
          padding: { top: 2, bottom: 4 }
        },
        boxLegend: { where: p.legend },
      },
      scales: {
        x: {
          type: 'linear',
          min: -p.xMax * 0.05, max: p.xMax * 1.05,
          afterBuildTicks: fixedTicks(p.xTicks),
          afterFit: s => { s.height = 44; },
          border: { display: false },
          grid: { drawOnChartArea: false, drawTicks: true, tickLength: 4.5, color: '#000', lineWidth: 1.1 },
          ticks: { color: '#000', padding: 3, maxRotation: 0, autoSkip: false,
                   font: { family: FONT, size: 13.9 }, callback: v => String(v) },
          title: { display: true, text: 'Epoch', color: '#000', font: { family: FONT, size: 13.9 }, padding: { top: 0, bottom: 2 } }
        },
        y: {
          type: 'linear',
          min: p.y[0], max: p.y[1],
          afterBuildTicks: fixedTicks(p.yTicks),
          afterFit: s => { s.width = yw; },
          border: { display: false },
          grid: { drawOnChartArea: false, drawTicks: true, tickLength: 4.5, color: '#000', lineWidth: 1.1 },
          ticks: { color: '#000', padding: 5, autoSkip: false,
                   font: { family: FONT, size: 13.9 }, callback: v => v.toFixed(1) },
          title: { display: true, text: 'Classification Error', color: '#000', font: { family: FONT, size: 13.9 }, padding: { top: 0, bottom: 0 } }
        }
      }
    },
    plugins: [frame, boxLegend]
  });
});
</script>
</body>
</html>
